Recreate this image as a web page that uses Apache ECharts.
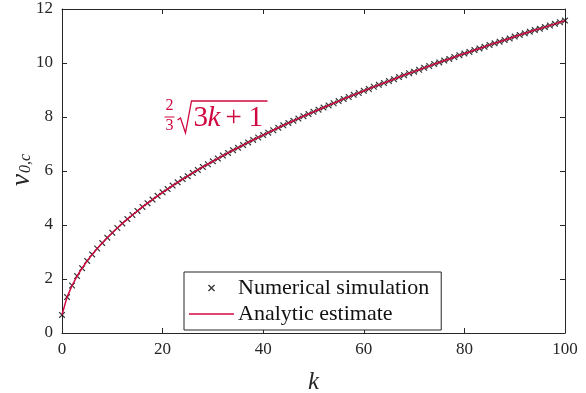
<!DOCTYPE html>
<html>
<head>
<meta charset="utf-8">
<script src="https://cdn.jsdelivr.net/npm/echarts@6/dist/echarts.min.js"></script>
<style>html,body{margin:0;padding:0;background:#fff;}#c{width:586px;height:393px;}</style>
</head>
<body>
<div id="c"></div>
<script>
// k values
var kValues = [0,1,2,3,4,5,6,7,8,9,10,11,12,13,14,15,16,17,18,19,20,21,22,23,24,25,26,27,28,29,30,31,32,33,34,35,36,37,38,39,40,41,42,43,44,45,46,47,48,49,50,51,52,53,54,55,56,57,58,59,60,61,62,63,64,65,66,67,68,69,70,71,72,73,74,75,76,77,78,79,80,81,82,83,84,85,86,87,88,89,90,91,92,93,94,95,96,97,98,99,100];
// Numerical simulation
var simValues = [0.67,1.33,1.76,2.11,2.40,2.67,2.91,3.13,3.33,3.53,3.71,3.89,4.06,4.22,4.37,4.52,4.67,4.81,4.94,5.08,5.21,5.33,5.46,5.58,5.70,5.81,5.93,6.04,6.15,6.25,6.36,6.46,6.57,6.67,6.77,6.86,6.96,7.06,7.15,7.24,7.33,7.42,7.51,7.60,7.69,7.78,7.86,7.94,8.03,8.11,8.19,8.27,8.35,8.43,8.51,8.59,8.67,8.74,8.82,8.89,8.97,9.04,9.12,9.19,9.26,9.33,9.40,9.48,9.55,9.62,9.68,9.75,9.82,9.89,9.96,10.02,10.09,10.15,10.22,10.29,10.35,10.41,10.48,10.54,10.60,10.67,10.73,10.79,10.85,10.91,10.98,11.04,11.10,11.16,11.22,11.27,11.33,11.39,11.45,11.51,11.57];
// Analytic estimate
var estValues = [0.67,1.33,1.76,2.11,2.40,2.67,2.91,3.13,3.33,3.53,3.71,3.89,4.06,4.22,4.37,4.52,4.67,4.81,4.94,5.08,5.21,5.33,5.46,5.58,5.70,5.81,5.93,6.04,6.15,6.25,6.36,6.46,6.57,6.67,6.77,6.86,6.96,7.06,7.15,7.24,7.33,7.42,7.51,7.60,7.69,7.78,7.86,7.94,8.03,8.11,8.19,8.27,8.35,8.43,8.51,8.59,8.67,8.74,8.82,8.89,8.97,9.04,9.12,9.19,9.26,9.33,9.40,9.48,9.55,9.62,9.68,9.75,9.82,9.89,9.96,10.02,10.09,10.15,10.22,10.29,10.35,10.41,10.48,10.54,10.60,10.67,10.73,10.79,10.85,10.91,10.98,11.04,11.10,11.16,11.22,11.27,11.33,11.39,11.45,11.51,11.57];
var xTicks = [0,20,40,60,80,100];
var yTicks = [0,2,4,6,8,10,12];

var RED = '#d0083f';
var AX = '#262626';
var FONT = 'Liberation Serif';
var XSYM = 'path://M0,1.3 L1.3,0 L5,3.7 L8.7,0 L10,1.3 L6.3,5 L10,8.7 L8.7,10 L5,6.3 L1.3,10 L0,8.7 L3.7,5 Z';
var LINEICON = 'path://M0,0 L45,0 L45,1.4 L0,1.4 Z';

function pair(xs, ys){ var r=[]; for(var i=0;i<xs.length;i++) r.push([xs[i], ys[i]]); return r; }

var chart = echarts.init(document.getElementById('c'), null, {renderer:'canvas'});
var axisCommon = {
  axisLine:{show:true, onZero:false, lineStyle:{color:AX, width:1}},
  axisTick:{show:true, inside:true, length:5, lineStyle:{color:AX, width:1}},
  splitLine:{show:false}
};
chart.setOption({
  animation:false,
  backgroundColor:'#fff',
  grid:{left:62, right:21, top:9, bottom:60, containLabel:false, outerBoundsMode:'none'},
  xAxis:[
    Object.assign({type:'value', min:xTicks[0], max:xTicks[xTicks.length-1], interval:20, position:'bottom',
      name:'k', nameLocation:'middle', nameGap:37,
      nameTextStyle:{fontFamily:FONT, fontStyle:'italic', fontSize:25, color:AX},
      axisLabel:{fontFamily:FONT, fontSize:17, color:AX, margin:8}}, axisCommon),
    Object.assign({type:'value', min:xTicks[0], max:xTicks[xTicks.length-1], interval:20, position:'top',
      axisLabel:{show:false}}, axisCommon)
  ],
  yAxis:[
    Object.assign({type:'value', min:yTicks[0], max:yTicks[yTicks.length-1], interval:2, position:'left',
      axisLabel:{fontFamily:FONT, fontSize:17, color:AX, margin:9}}, axisCommon),
    Object.assign({type:'value', min:yTicks[0], max:yTicks[yTicks.length-1], interval:2, position:'right',
      axisLabel:{show:false}}, axisCommon)
  ],
  legend:{
    orient:'vertical', left:184, top:272,
    backgroundColor:'#fff', borderColor:AX, borderWidth:1, borderRadius:0,
    padding:[4,12,4,5], itemGap:2, itemWidth:45, itemHeight:7,
    textStyle:{fontFamily:FONT, fontSize:22, lineHeight:24, color:'#111', padding:[0,0,0,-1]},
    data:[
      {name:'Numerical simulation', icon:XSYM, itemStyle:{color:'#000'}},
      {name:'Analytic estimate', icon:LINEICON, itemStyle:{color:RED}}
    ]
  },
  series:[
    {name:'Numerical simulation', type:'scatter', data:pair(kValues, simValues),
      symbol:XSYM, symbolSize:6.5, itemStyle:{color:'#000'}, z:2},
    {name:'Analytic estimate', type:'line', data:pair(kValues, estValues),
      symbol:'none', smooth:false, lineStyle:{color:RED, width:1.5}, itemStyle:{color:RED}, z:3}
  ],
  graphic:[
    {type:'text', x:21, y:170, rotation:Math.PI/2, style:{
      text:'{v|v}{s|0,c}', align:'center', verticalAlign:'middle',
      rich:{
        v:{fontFamily:FONT, fontStyle:'italic', fontSize:27, lineHeight:26, verticalAlign:'top', fill:AX},
        s:{fontFamily:FONT, fontStyle:'italic', fontSize:16, lineHeight:16, verticalAlign:'bottom', fill:AX, padding:[14,0,0,1]}
      }}},
    {type:'group', left:162, top:98, children:[
      {type:'text', x:2, y:0, style:{text:'2', fontFamily:FONT, fontSize:16, fill:RED}},
      {type:'line', shape:{x1:1, y1:19, x2:11, y2:19}, style:{stroke:RED, lineWidth:1}},
      {type:'text', x:2, y:20, style:{text:'3', fontFamily:FONT, fontSize:16, fill:RED}},
      {type:'polyline', shape:{points:[[14,22],[17,20],[22,35],[28,3],[104,3]]}, style:{stroke:RED, lineWidth:1.3, fill:null}},
      {type:'text', x:30, y:6, style:{text:'3', fontFamily:FONT, fontSize:29, fill:RED}},
      {type:'text', x:44, y:6, style:{text:'k', fontFamily:FONT, fontStyle:'italic', fontSize:29, fill:RED}},
      {type:'text', x:62, y:6, style:{text:'+', fontFamily:FONT, fontSize:29, fill:RED}},
      {type:'text', x:85, y:6, style:{text:'1', fontFamily:FONT, fontSize:29, fill:RED}}
    ]}
  ]
});
</script>
</body>
</html>
